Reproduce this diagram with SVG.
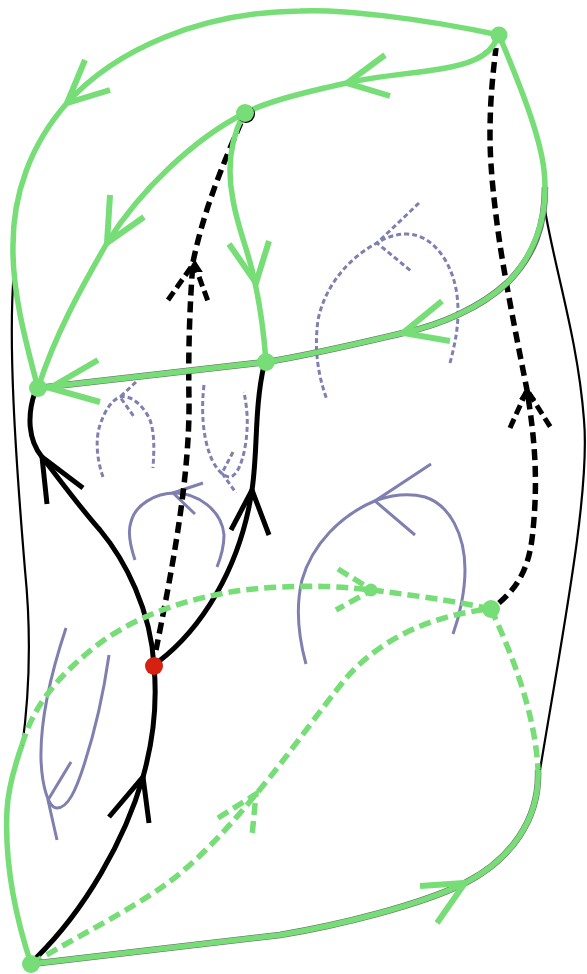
<svg xmlns="http://www.w3.org/2000/svg" width="587" height="974" viewBox="0 0 587 974">
<style>
path{fill:none}
.thin{stroke:#000;stroke-width:2.2}
.k{stroke:#000;stroke-width:5}
.kd{stroke:#000;stroke-width:5.5;stroke-dasharray:11 6}
.kh{stroke:#000;stroke-width:5;stroke-dasharray:10 5}
.kt{fill:#000;stroke:#000;stroke-width:2}
.e{stroke:#666;stroke-width:6.5}
.g{stroke:#77dd77;stroke-width:5.5}
.gh{stroke:#77dd77;stroke-width:6}
.gd{stroke:#77dd77;stroke-width:5.5;stroke-dasharray:12 6}
.p{stroke:#7f7fb0;stroke-width:3}
.pd{stroke:#7f7fb0;stroke-width:3;stroke-dasharray:5 3}
.gn{fill:#77dd77}
.rn{fill:#d62010}
</style>
<rect width="587" height="974" fill="#fff"/>
<g id="connectors">
<path class="thin" d="M14,270C8,340 15,450 25,570C31,630 30,690 22,748"/>
<path class="thin" d="M545,210C555,270 578,340 584,420C590,490 565,620 540,770"/>
<path class="p" d="M306,664C298,635 296,605 302,580C312,545 340,515 377,500C395,494 410,493 425,497C450,505 465,535 465,570C465,590 460,615 453,634"/>
<path class="p" d="M431,464L375,501L415,535"/>
<path class="p" d="M135,560C130,545 128,530 131,522C135,505 155,493 175,493C197,493 222,510 224,535C224,547 221,557 217,567"/>
<path class="p" d="M203,483L173,493L195,514"/>
<path class="p" d="M66,628C52,670 40,720 41,760C42,785 48,808 57,808C68,808 76,790 84,765C97,725 104,690 109,655"/>
<path class="p" d="M71,762L48,800L57,840"/>
<path class="pd" d="M450,363C456,340 460,320 457,295C453,265 435,235 407,234C395,234 385,238 377,243C350,257 325,285 318,320C314,350 318,375 327,400"/>
<path class="pd" d="M419,203L377,243L411,271"/>
<path class="pd" d="M103,477C97,460 95,440 100,425C105,410 112,400 120,397C132,394 145,408 150,420C155,435 154,450 153,468"/>
<path class="pd" d="M136,382L120,397L135,418"/>
<path class="pd" d="M204,385C201,410 203,435 209,452C213,465 222,477 230,477C240,475 246,450 247,430C248,415 246,403 244,392"/>
<path class="pd" d="M233,452L222,473L236,493"/>
<path class="kd" d="M156,650C170,580 190,480 189,400C188,350 190,300 193,262C205,205 225,160 242,120"/>
<path class="kh" d="M168,300L194,263L209,304"/>
<path class="kt" d="M188,271L195,262L201,271Z"/>
<path class="kd" d="M499,603C520,585 530,565 533,530C538,480 535,440 527,390C518,345 507,290 500,245C495,210 490,170 490,135C490,105 492,80 496,48"/>
<path class="kh" d="M510,428L527,390L551,428"/>
<path class="kt" d="M521,398L527,389L534,398Z"/>
<path class="k" d="M36,958C85,910 125,840 143,777C152,745 158,710 154,666"/>
<path class="k" d="M109,817L143,777L149,823"/>
<path class="k" d="M154,666C151,610 125,560 100,530C82,510 60,480 42,457C28,440 27,415 35,392"/>
<path class="k" d="M47,504L42,457L83,488"/>
<path class="k" d="M158,662C200,630 240,570 252,490C258,450 254,410 264,365"/>
<path class="k" d="M231,530L252,490L269,535"/>
<path class="gd" d="M22,745C35,700 65,670 100,643C145,610 210,590 280,587C320,585 345,587 372,590C410,595 450,600 491,609"/>
<path class="gd" d="M338,569L372,590L336,610"/>
<path class="gd" d="M31,964C80,935 130,910 165,885C200,860 235,820 257,793C285,760 320,710 347,677C380,640 430,615 491,609"/>
<path class="gd" d="M218,818L256,794L252,836"/>
<path class="gd" d="M491,609C510,650 535,710 538,770"/>
<path class="e" d="M545,187C545,225 535,255 507,283C480,308 440,325 403,333C360,343 310,355 266,362L38,388"/>
<path class="e" d="M538,770C540,820 510,860 465,883C420,905 340,925 280,935L31,964"/>
<path class="g" d="M31,964C10,900 5,850 7,810C8,790 15,765 22,745"/>
<path class="g" d="M538,770C540,820 510,860 465,883C420,905 340,925 280,935L31,964"/>
<path class="gh" d="M420,886L465,883L437,923"/>
<path class="g" d="M499,35C420,18 340,9 300,11C200,12 115,50 67,103C30,145 13,195 13,245C12,290 25,340 38,388"/>
<path class="gh" d="M85,60L67,103L110,90"/>
<path class="g" d="M497,38C490,58 465,65 440,69C410,74 375,76 347,83C315,90 270,100 245,113"/>
<path class="gh" d="M385,55L347,83L390,96"/>
<path class="g" d="M245,113C195,138 140,190 107,243C80,290 55,335 38,388"/>
<path class="gh" d="M110,195L107,243L144,217"/>
<path class="g" d="M243,115C228,145 228,175 233,200C238,230 250,255 255,283C260,305 264,335 266,362"/>
<path class="gh" d="M229,244L256,283L269,241"/>
<path class="g" d="M499,35C520,85 540,135 544,170C549,215 535,255 507,283C480,308 440,325 403,333C360,343 310,355 266,362L38,388"/>
<path class="gh" d="M442,301L403,333L450,341"/>
<path class="gh" d="M98,360L50,388L100,402"/>
</g>
<g id="node-top-right"><circle class="gn" cx="499" cy="35" r="8.5"/></g>
<g id="node-top-mid"><circle cx="246" cy="114" r="9"/><circle class="gn" cx="245" cy="113" r="9"/></g>
<g id="node-mid"><circle class="gn" cx="266" cy="362" r="9"/></g>
<g id="node-left"><circle class="gn" cx="38" cy="388" r="9"/></g>
<g id="node-red"><circle class="rn" cx="154" cy="666" r="9"/></g>
<g id="node-right"><circle class="gn" cx="491" cy="609" r="9"/></g>
<g id="node-small"><circle class="gn" cx="371" cy="590" r="6.5"/></g>
<g id="node-bottom"><circle class="gn" cx="31" cy="964" r="9"/></g>
</svg>
